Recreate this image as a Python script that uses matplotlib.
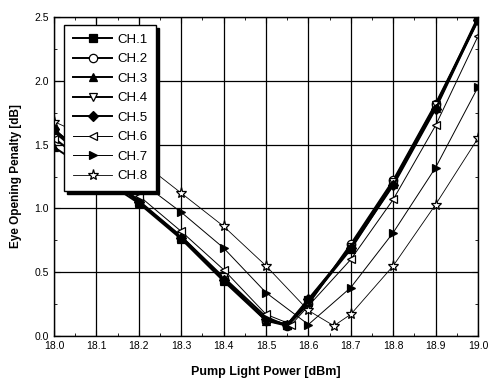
import matplotlib
matplotlib.use("Agg")
import matplotlib.pyplot as plt
from matplotlib.ticker import MultipleLocator

plt.rcParams['font.family'] = ['Liberation Sans', 'DejaVu Sans']

x_main = [18.0, 18.2, 18.3, 18.4, 18.5, 18.55, 18.6, 18.7, 18.8, 18.9, 19.0]
ch1 = [1.60, 1.05, 0.77, 0.44, 0.13, 0.09, 0.28, 0.70, 1.20, 1.80, 2.50]
ch2 = [1.62, 1.06, 0.78, 0.45, 0.12, 0.08, 0.25, 0.72, 1.22, 1.82, 2.48]
ch3 = [1.48, 1.04, 0.76, 0.43, 0.12, 0.09, 0.27, 0.68, 1.19, 1.79, 2.49]
ch4 = [1.55, 1.05, 0.78, 0.46, 0.15, 0.08, 0.26, 0.70, 1.21, 1.81, 2.47]
ch5 = [1.62, 1.05, 0.77, 0.44, 0.13, 0.09, 0.29, 0.69, 1.18, 1.78, 2.48]
x_ch6 = [18.0, 18.2, 18.3, 18.4, 18.5, 18.56, 18.7, 18.8, 18.9, 19.0]
ch6 = [1.54, 1.10, 0.82, 0.52, 0.17, 0.09, 0.60, 1.07, 1.65, 2.35]
x_ch7 = [18.0, 18.2, 18.3, 18.4, 18.5, 18.6, 18.7, 18.8, 18.9, 19.0]
ch7 = [1.60, 1.22, 0.97, 0.69, 0.34, 0.09, 0.38, 0.81, 1.32, 1.95]
x_ch8 = [18.0, 18.2, 18.3, 18.4, 18.5, 18.6, 18.66, 18.7, 18.8, 18.9, 19.0]
ch8 = [1.68, 1.38, 1.12, 0.86, 0.55, 0.20, 0.08, 0.17, 0.55, 1.03, 1.55]

labels = ["CH.1", "CH.2", "CH.3", "CH.4", "CH.5", "CH.6", "CH.7", "CH.8"]

fig = plt.figure(figsize=(4.91, 3.82), dpi=100)
ax = fig.add_axes([0.110, 0.1204, 0.8635, 0.8351])

ms = 6
series = [
    (x_main, ch1, dict(marker='s', mfc='black', lw=1.4)),
    (x_main, ch2, dict(marker='o', mfc='white', lw=1.4)),
    (x_main, ch3, dict(marker='^', mfc='black', lw=1.4)),
    (x_main, ch4, dict(marker='v', mfc='white', lw=1.4)),
    (x_main, ch5, dict(marker='D', mfc='black', lw=1.4, ms=5.5)),
    (x_ch6, ch6, dict(marker='<', mfc='white', lw=0.7)),
    (x_ch7, ch7, dict(marker='>', mfc='black', lw=0.7)),
    (x_ch8, ch8, dict(marker='*', mfc='white', lw=0.6, ms=8)),
]
for (xs, ys, st), lab in zip(series, labels):
    kw = dict(color='black', mec='black', ms=ms, mew=0.9, clip_on=True)
    kw.update(st)
    ax.plot(xs, ys, label=lab, **kw)

ax.set_xlim(18.0, 19.0)
ax.set_ylim(0.0, 2.5)
ax.xaxis.set_major_locator(MultipleLocator(0.1))
ax.xaxis.set_minor_locator(MultipleLocator(0.05))
ax.yaxis.set_major_locator(MultipleLocator(0.5))
ax.yaxis.set_minor_locator(MultipleLocator(0.25))
ax.xaxis.set_major_formatter(matplotlib.ticker.FormatStrFormatter('%.1f'))
ax.yaxis.set_major_formatter(matplotlib.ticker.FormatStrFormatter('%.1f'))
ax.tick_params(which='both', direction='in', top=True, right=True, labelsize=7.5)
ax.tick_params(which='major', length=4)
ax.tick_params(which='minor', length=2)
ax.grid(True, which='major', color='black', lw=0.9)
for s in ax.spines.values():
    s.set_linewidth(1.0)

ax.set_xlabel("Pump Light Power [dBm]", fontsize=9, fontweight='bold', labelpad=11)
ax.set_ylabel("Eye Opening Penalty [dB]", fontsize=8.5, fontweight='bold', labelpad=9)

leg = ax.legend(loc='upper left', bbox_to_anchor=(0.024, 0.975), borderaxespad=0,
                frameon=True, fancybox=False, shadow={'color': 'black', 'alpha': 1.0},
                edgecolor='black', framealpha=1.0, fontsize=9.5, handlelength=3.0,
                labelspacing=0.55, borderpad=0.65, handletextpad=0.4)
leg.get_frame().set_linewidth(1.0)

fig.savefig("out.png", dpi=100)
